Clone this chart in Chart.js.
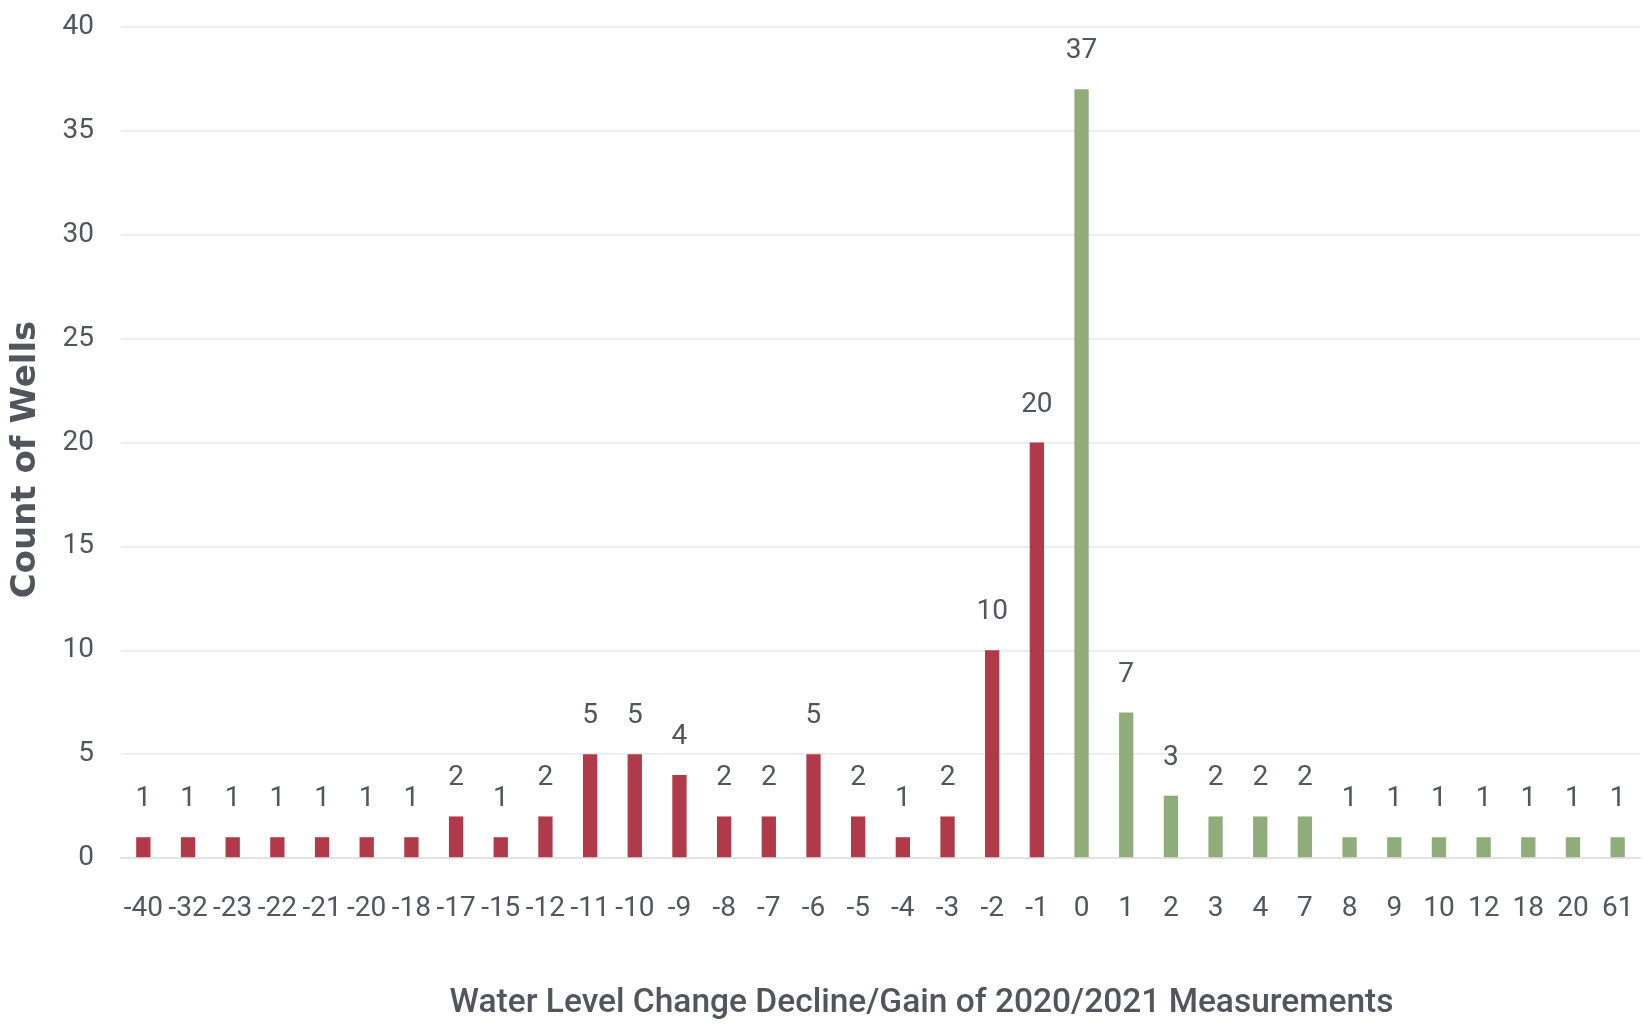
<!DOCTYPE html>
<html>
<head>
<meta charset="utf-8">
<title>Water Level Change</title>
<script src="https://cdn.jsdelivr.net/npm/chart.js@4.4.1/dist/chart.umd.min.js"></script>
<style>
  html, body { margin: 0; padding: 0; background: #ffffff; }
  #wrap { width: 1643px; height: 1025px; }
</style>
</head>
<body>
<div id="wrap"><canvas id="chart" width="1643" height="1025"></canvas></div>
<script>
// Water level change (ft) between 2020 and 2021 measurements
const changeCategories = ['-40','-32','-23','-22','-21','-20','-18','-17','-15','-12','-11','-10','-9','-8','-7','-6','-5','-4','-3','-2','-1','0','1','2','3','4','7','8','9','10','12','18','20','61'];
// Number of wells in each change bin
const wellCounts = [1,1,1,1,1,1,1,2,1,2,5,5,4,2,2,5,2,1,2,10,20,37,7,3,2,2,2,1,1,1,1,1,1,1];
const yTicks = [0,5,10,15,20,25,30,35,40];

const xTitle = 'Water Level Change Decline/Gain of 2020/2021 Measurements';
const yTitle = 'Count of Wells';

const declineColor = '#b03a4a';
const gainColor = '#8fac7a';
const textColor = '#52555c';
const tickFont = 'Roboto, "Liberation Sans", sans-serif';

const barColors = changeCategories.map(c => Number(c) < 0 ? declineColor : gainColor);

// Value labels above each bar
const valueLabels = {
  id: 'valueLabels',
  afterDatasetsDraw(chart) {
    const ctx = chart.ctx;
    const meta = chart.getDatasetMeta(0);
    ctx.save();
    ctx.fillStyle = textColor;
    ctx.font = '28px ' + tickFont;
    ctx.textAlign = 'center';
    ctx.textBaseline = 'bottom';
    meta.data.forEach((bar, i) => {
      ctx.fillText(String(wellCounts[i]), bar.x, bar.y - 24);
    });
    ctx.restore();
  }
};

// Axis captions: horizontal one under the tick labels, vertical one at the left edge
const axisCaptions = {
  id: 'axisCaptions',
  afterDraw(chart) {
    const ctx = chart.ctx;
    const area = chart.chartArea;
    ctx.save();
    ctx.fillStyle = textColor;
    ctx.textAlign = 'center';
    ctx.textBaseline = 'middle';
    ctx.font = '500 33.5px ' + tickFont;
    ctx.fillText(xTitle, (area.left + area.right) / 2 + 41, 1004);
    ctx.translate(26, (area.top + area.bottom) / 2 + 17);
    ctx.rotate(-Math.PI / 2);
    ctx.font = 'bold 34px "DejaVu Sans", sans-serif';
    ctx.fillText(yTitle, 0, 0);
    ctx.restore();
  }
};

new Chart(document.getElementById('chart'), {
  type: 'bar',
  data: {
    labels: changeCategories,
    datasets: [{
      data: wellCounts,
      backgroundColor: barColors,
      borderWidth: 0,
      barPercentage: 0.32,
      categoryPercentage: 1.0
    }]
  },
  options: {
    responsive: false,
    animation: false,
    layout: { padding: { top: 27, right: 3, left: 0, bottom: 0 } },
    plugins: {
      legend: { display: false },
      tooltip: { enabled: false }
    },
    scales: {
      x: {
        grid: { display: false, drawTicks: true, tickLength: 34 },
        border: { display: true, color: '#e3e3e3', width: 2 },
        ticks: {
          color: textColor,
          font: { family: tickFont, size: 28 },
          padding: 0,
          maxRotation: 0,
          autoSkip: false
        },
        afterFit(scale) { scale.height = 167; }
      },
      y: {
        min: 0,
        max: 40,
        afterBuildTicks(scale) { scale.ticks = yTicks.map(v => ({ value: v })); },
        grid: { color: '#e8e8e8', lineWidth: 1.5, drawTicks: true, tickLength: 27, tickColor: 'rgba(0,0,0,0)' },
        border: { display: false },
        ticks: {
          color: textColor,
          font: { family: tickFont, size: 28 },
          padding: 0
        },
        afterFit(scale) { scale.width = 121; }
      }
    }
  },
  plugins: [valueLabels, axisCaptions]
});
</script>
</body>
</html>
